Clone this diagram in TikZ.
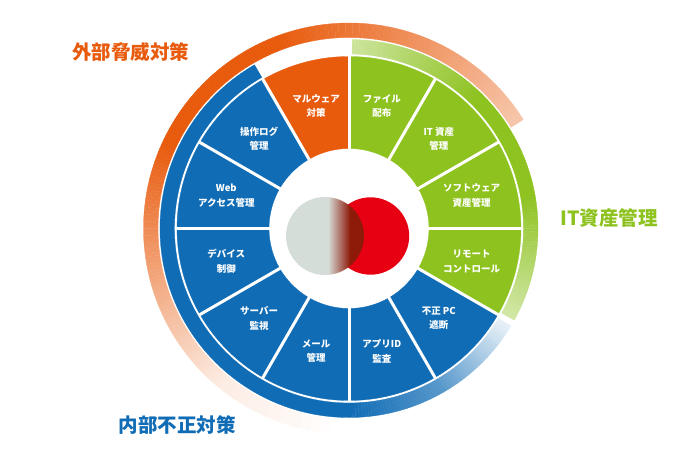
\documentclass[tikz,border=0pt]{standalone}
\usepackage{fontspec}
\setmainfont{Noto Sans CJK JP}

\definecolor{wOrange}{HTML}{E85A0C}
\definecolor{wGreen}{HTML}{8DC21F}
\definecolor{wBlue}{HTML}{106CB5}
\definecolor{wGrey}{HTML}{D5DDD8}
\definecolor{wDark}{HTML}{8E1A0A}
\definecolor{wRed}{HTML}{E60012}

\pgfdeclarehorizontalshading{vennmix}{100bp}{color(0bp)=(wGrey); color(52bp)=(wGrey); color(66bp)=(wDark); color(100bp)=(wDark)}

% morceau d'anneau : angle debut, angle fin, rayon int, rayon ext, couleur
\newcommand{\ringpart}[5]{%
  \filldraw[fill=#5, draw=#5, line width=0.3pt] (#1:#3) arc[start angle=#1, end angle=#2, radius=#3]
    -- (#2:#4) arc[start angle=#2, end angle=#1, radius=#4] -- cycle;}

\tikzset{
  seglabel/.style={text=white, font=\fontsize{9.5}{14.5}\selectfont\bfseries, align=center, inner sep=0pt},
  divider/.style={white, line width=3pt},
  bandtitle/.style={font=\fontsize{19.5}{21}\selectfont\bfseries, inner sep=0pt}
}

\begin{document}
\begin{tikzpicture}[x=1pt, y=1pt, line join=round]
  \useasboundingbox (-349,-234.5) rectangle (351,228.5);
  \coordinate (O) at (0,0);

  % bande exterieure orange (degrade)
  \foreach \a in {32,...,267}{
    \pgfmathtruncatemacro{\p}{\a<110 ? 35+65*(\a-32)/78 : (\a<155 ? 100 : (\a<230 ? 100-88*(\a-155)/75 : 12-12*(\a-230)/38))}
    \pgfmathtruncatemacro{\b}{\a+1}
    \ringpart{\a}{\b}{191}{205.5}{wOrange!\p!white}
  }

  % bande bleue
  \ringpart{120}{270}{174.5}{189}{wBlue}
  \foreach \a in {270,...,328}{
    \pgfmathtruncatemacro{\p}{\a<300 ? 100-30*(\a-270)/30 : 70-62*(\a-300)/29}
    \pgfmathtruncatemacro{\b}{\a+1}
    \ringpart{\a}{\b}{174.5}{189}{wBlue!\p!white}
  }

  % bande verte
  \foreach \a in {-29,...,88}{
    \pgfmathtruncatemacro{\p}{\a>45 ? 45+55*(88-\a)/43 : (\a>10 ? 100 : 40+60*(\a+29)/39)}
    \pgfmathtruncatemacro{\b}{\a+1}
    \ringpart{\a}{\b}{174.5}{189}{wGreen!\p!white}
  }

  % secteurs et etiquettes
  \foreach \s/\col/\txt [count=\k] in {60/wGreen/{ファイル\\配布}, 30/wGreen/{IT 資産\\管理},
      0/wGreen/{ソフトウェア\\資産管理}, -30/wGreen/{リモート\\コントロール}, -60/wBlue/{不正 PC\\遮断},
      -90/wBlue/{アプリID\\監査}, -120/wBlue/{メール\\管理}, -150/wBlue/{サーバー\\監視},
      -180/wBlue/{デバイス\\制御}, 150/wBlue/{Web\\アクセス管理}, 120/wBlue/{操作ログ\\管理},
      90/wOrange/{マルウェア\\対策}}{
    \pgfmathsetmacro{\e}{\s+30}
    \pgfmathsetmacro{\m}{\s+15}
    \ringpart{\s}{\e}{80}{172}{\col}
    \node[seglabel] (seg\k) at (\m:127) {\txt};
  }

  % separations blanches
  \foreach \a in {0,30,...,330}
    \draw[divider] (\a:78) -- (\a:173);

  % cercles du centre
  \fill[wRed] (21.5,-7.5) circle[radius=38.7];
  \shade[shading=vennmix] (-24,-7.5) circle[radius=39];

  % titres
  \node[bandtitle, text=wOrange] (ext) at (-218,176.5) {外部脅威対策};
  \node[bandtitle, text=wGreen] (itm) at (260,10.5) {IT資産管理};
  \node[bandtitle, text=wBlue] (int) at (-171.5,-196.5) {内部不正対策};
\end{tikzpicture}
\end{document}
